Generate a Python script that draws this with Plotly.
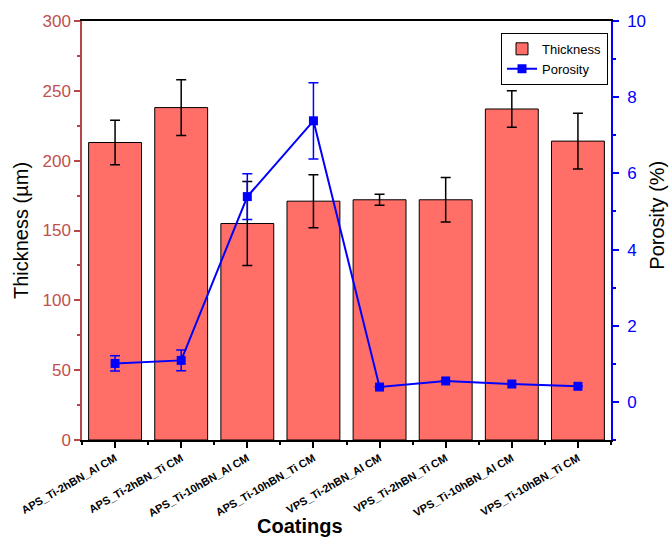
import plotly.graph_objects as go

categories = ["APS_Ti-2hBN_Al CM", "APS_Ti-2hBN_Ti CM", "APS_Ti-10hBN_Al CM", "APS_Ti-10hBN_Ti CM",
              "VPS_Ti-2hBN_Al CM", "VPS_Ti-2hBN_Ti CM", "VPS_Ti-10hBN_Al CM", "VPS_Ti-10hBN_Ti CM"]
thickness = [213, 238, 155, 171, 172, 172, 237, 214]
thickness_err = [16, 20, 30, 19, 4, 16, 13, 20]
porosity = [1.01, 1.09, 5.39, 7.38, 0.39, 0.55, 0.47, 0.41]
porosity_err = [0.2, 0.27, 0.6, 1.0, 0.0, 0.0, 0.0, 0.0]

xpos = list(range(len(categories)))
FONT = "Liberation Sans, Arial, sans-serif"
RED_AX = "#b5474a"
BLUE = "#0000ff"

# plot area in pixels: x 82..611, y 16..440
L, R, T, B = 82, 611, 16, 440
def px_x(px):
    return (px - L) / (R - L)
def px_y(py):
    return (B - py) / (B - T)

fig = go.Figure()
fig.add_trace(go.Bar(
    x=xpos, y=thickness, name="Thickness",
    marker=dict(color="#ff6f68", line=dict(color="black", width=1)),
    error_y=dict(type="data", array=thickness_err, color="black", thickness=1.5, width=5),
    width=0.8,
))
fig.add_trace(go.Scatter(
    x=xpos, y=porosity, name="Porosity", yaxis="y2", mode="lines+markers",
    line=dict(color=BLUE, width=2),
    marker=dict(symbol="square", size=9, color=BLUE),
    error_y=dict(type="data", array=porosity_err, color=BLUE, thickness=1.5, width=5),
))

fig.update_layout(
    width=670, height=543,
    margin=dict(l=L, r=670 - R, t=T, b=543 - B),
    paper_bgcolor="white", plot_bgcolor="white",
    font=dict(family=FONT, color="black"),
    showlegend=True,
    legend=dict(x=px_x(608), y=px_y(28), xanchor="right", yanchor="top",
                bgcolor="white", bordercolor="black", borderwidth=1,
                font=dict(size=13, family=FONT), tracegroupgap=0,
                itemwidth=30),
    xaxis=dict(
        range=[-0.5, 7.5], tickmode="array", tickvals=xpos, ticktext=categories,
        tickangle=-30, tickfont=dict(size=11, family=FONT, color="black", weight="bold"),
        ticks="outside", ticklen=6, tickcolor="black", tickwidth=1.5,
        minor=dict(ticks="outside", ticklen=3, tick0=0.5, dtick=1, tickcolor="black", tickwidth=1.5),
        showline=True, linecolor="black", linewidth=1.5, mirror=True,
        showgrid=False, zeroline=False,
    ),
    yaxis=dict(
        range=[0, 300], dtick=50, showgrid=False, zeroline=False,
        showline=True, linecolor=RED_AX, linewidth=1.5,
        ticks="outside", ticklen=6, tickcolor=RED_AX, tickwidth=1.5,
        minor=dict(ticks="outside", ticklen=3, dtick=25, tickcolor=RED_AX),
        tickfont=dict(size=17, color="#c0504d", family=FONT),
        title=dict(text="Thickness (\u00b5m)", font=dict(size=20, family=FONT), standoff=8),
    ),
    yaxis2=dict(
        range=[-1, 10], overlaying="y", side="right", dtick=2, tick0=0,
        showgrid=False, zeroline=False,
        showline=True, linecolor=BLUE, linewidth=1.5,
        ticks="outside", ticklen=6, tickcolor=BLUE, tickwidth=1.5,
        minor=dict(ticks="outside", ticklen=3, dtick=1, tick0=0, tickcolor=BLUE),
        tickfont=dict(size=17, color=BLUE, family=FONT),
        ticklabelstandoff=5,
    ),
    annotations=[
        dict(text="<b>Coatings</b>", xref="paper", yref="paper", x=px_x(300), y=px_y(527),
             xanchor="center", yanchor="middle", showarrow=False,
             font=dict(size=20, family=FONT, color="black")),
        dict(text="Porosity (%)", xref="paper", yref="paper", x=px_x(657), y=px_y(213),
             xanchor="center", yanchor="middle", showarrow=False, textangle=-90,
             font=dict(size=20, family=FONT, color="black")),
    ],
)

fig.write_html("out.html")
